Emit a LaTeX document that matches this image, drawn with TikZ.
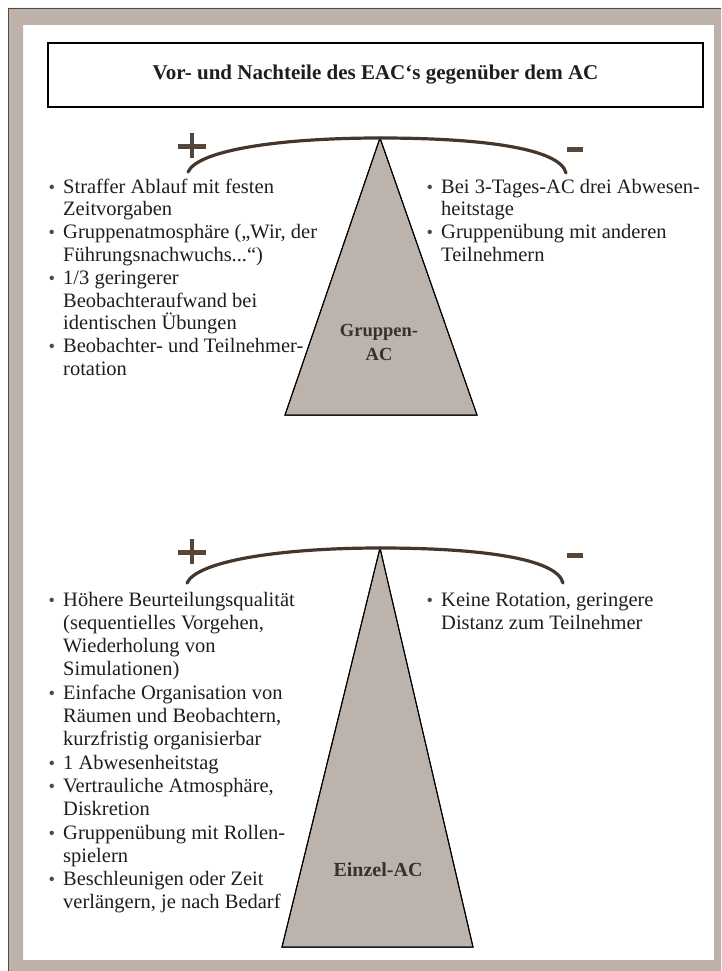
\documentclass[tikz,border=0pt]{standalone}
\usepackage{fontspec}
\setmainfont{Liberation Serif}
\definecolor{framec}{HTML}{BDB1A9}
\definecolor{tric}{HTML}{BCB3AC}
\definecolor{beamc}{HTML}{45362D}
\definecolor{signc}{HTML}{564639}
\definecolor{textc}{HTML}{1E1E1E}
\definecolor{labelc}{HTML}{3A302B}
\definecolor{bulc}{HTML}{4A4A4A}
\newcommand{\bul}{\makebox[14.5pt][l]{\textcolor{bulc}{\scalebox{0.9}{\textbullet}}}}
\newcommand{\ind}{\hspace*{14.5pt}}
\begin{document}
\begin{tikzpicture}[x=1pt,y=-1pt,
  txt/.style={anchor=base west, align=left, inner sep=0pt, text=textc},
  upperfont/.style={font=\fontsize{20.5}{22.8}\selectfont},
  lowerfont/.style={font=\fontsize{20.5}{23.3}\selectfont},
  beam/.style={draw=beamc, line width=3.2pt, line cap=round},
  tri/.style={draw=black, line width=1pt, fill=tric, line join=miter},
  trilabel/.style={inner sep=0pt, text=labelc, align=center, font=\bfseries\fontsize{18.5}{24}\selectfont},
  sign/.style={fill=signc, draw=none},
  titlebox/.style={draw=black, line width=1.3pt, inner sep=0pt, minimum width=655pt, minimum height=64pt, font=\bfseries\fontsize{21}{24}\selectfont, text=textc}]
\useasboundingbox (0,0) rectangle (721,971);
% frame
\fill[white] (0,0) rectangle (721,971);
\fill[framec, even odd rule] (8,8) rectangle (721,971) (23,25) rectangle (714,960);
\draw[black!70, line width=0.8pt] (8,971) -- (8,8) -- (721,8);
% title
\node[titlebox] (title) at (375.5,75) {Vor- und Nachteile des EAC\char"60 s gegenüber dem AC};
% upper scale
\coordinate (ua) at (380,138);
\coordinate (ubl) at (285,415);
\coordinate (ubr) at (477,415);
\fill[tri] (ua) -- (ubr) -- (ubl) -- cycle;
\draw[tri, fill=none] (ua) -- (ubr) -- (ubl) -- cycle;
\coordinate (ul) at (188,172);
\coordinate (ur) at (566,173);
\draw[beam] (ul) .. controls (198,150) and (280,138) .. (ua) .. controls (480,138) and (560,148) .. (ur);
\fill[sign] (178,144) rectangle (206,148.5);
\fill[sign] (189.8,133) rectangle (194.2,158);
\fill[sign] (567,146.5) rectangle (583,151.5);
\node[trilabel] (ulab) at (379,342) {Gruppen-\\AC};
\node[txt, upperfont] (upl) at (48.5,375.4) {\bul Straffer Ablauf mit festen\\
\ind Zeitvorgaben\\
\bul Gruppenatmosphäre („Wir, der\\
\ind Führungsnachwuchs...“)\\
\bul 1/3 geringerer\\
\ind Beobachteraufwand bei\\
\ind identischen Übungen\\
\bul Beobachter- und Teilnehmer-\\
\ind rotation};
\node[txt, upperfont] (upr) at (426.5,261.4) {\bul Bei 3-Tages-AC drei Abwesen-\\
\ind heitstage\\
\bul Gruppenübung mit anderen\\
\ind Teilnehmern};
% lower scale
\coordinate (la) at (380,548);
\coordinate (lbl) at (282,947);
\coordinate (lbr) at (473,947);
\fill[tri] (la) -- (lbr) -- (lbl) -- cycle;
\draw[tri, fill=none] (la) -- (lbr) -- (lbl) -- cycle;
\coordinate (ll) at (187,583);
\coordinate (lr) at (563,583);
\draw[beam] (ll) .. controls (197,561) and (280,548) .. (la) .. controls (478,548) and (557,558) .. (lr);
\fill[sign] (178,550) rectangle (206,554.5);
\fill[sign] (189.8,539) rectangle (194.2,564);
\fill[sign] (567,552.5) rectangle (583,557.5);
\node[trilabel, font=\bfseries\fontsize{20}{24}\selectfont] (llab) at (378,870) {Einzel-AC};
\node[txt, lowerfont] (lpl) at (48.5,908.9) {\bul Höhere Beurteilungsqualität\\
\ind (sequentielles Vorgehen,\\
\ind Wiederholung von\\
\ind Simulationen)\\
\bul Einfache Organisation von\\
\ind Räumen und Beobachtern,\\
\ind kurzfristig organisierbar\\
\bul 1 Abwesenheitstag\\
\bul Vertrauliche Atmosphäre,\\
\ind Diskretion\\
\bul Gruppenübung mit Rollen-\\
\ind spielern\\
\bul Beschleunigen oder Zeit\\
\ind verlängern, je nach Bedarf};
\node[txt, lowerfont] (lpr) at (426.5,629.3) {\bul Keine Rotation, geringere\\
\ind Distanz zum Teilnehmer};
\end{tikzpicture}
\end{document}
